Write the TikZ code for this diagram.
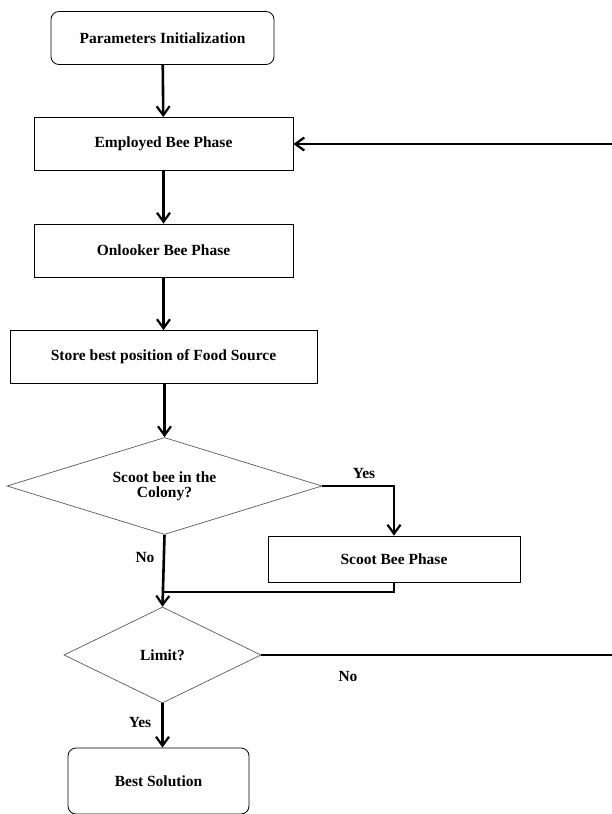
\documentclass[tikz,border=0pt]{standalone}
\usepackage{fontspec}
\setmainfont{Liberation Serif}
\usetikzlibrary{arrows.meta,shapes.geometric}
\begin{document}
\begin{tikzpicture}[x=1pt,y=-1pt,
  box/.style={draw=black,line width=0.8pt,minimum width=#1,minimum height=53pt,inner sep=0pt,font=\bfseries\fontsize{15.5}{17}\selectfont},
  rbox/.style={box=#1,rounded corners=8pt},
  dec/.style={draw=black!65,line width=0.7pt,diamond,aspect=3.2,inner sep=0pt,font=\bfseries\fontsize{15.5}{15}\selectfont,align=center},
  flow/.style={line width=2.6pt,-{Straight Barb[length=9pt,width=13pt,line width=2.2pt]}},
  plain/.style={line width=2.6pt},
  lab/.style={font=\bfseries\fontsize{15.5}{17}\selectfont}]
\useasboundingbox (0,0) rectangle (612,814);
\node[rbox=223pt] (init) at (162.5,38) {Parameters Initialization};
\node[box=259pt] (emp) at (163.5,144) {Employed Bee Phase};
\node[box=259pt] (onl) at (163.5,250.5) {Onlooker Bee Phase};
\node[box=307pt] (store) at (163.5,357) {Store best position of Food Source};
\node[dec,minimum width=315pt,minimum height=97pt] (scoot) at (164.5,486) {Scoot bee in the\\Colony?};
\node[box=252pt,minimum height=46pt] (sbp) at (394,559) {Scoot Bee Phase};
\node[dec,minimum width=197pt,minimum height=96pt] (lim) at (162.5,655) {Limit?};
\node[rbox=181pt,minimum height=66pt] (best) at (158.5,781) {Best Solution};
\coordinate (r1) at (612,144);
\coordinate (r2) at (612,655);
\coordinate (j) at (163,592);
\draw[flow] (init) -- (emp);
\draw[flow] (emp) -- (onl);
\draw[flow] (onl) -- (store);
\draw[flow] (store.south -| scoot.north) -- (scoot.north);
\draw[flow] (scoot.east) -| (sbp.north);
\draw[plain] (sbp.south) |- (j);
\draw[flow] (scoot.south) -- (lim.north);
\draw[flow] (lim.south) -- (lim.south |- best.north);
\draw[plain] (lim.east) -- (r2);
\draw[flow] (r1) -- (emp.east);
\node[lab] (yes1) at (364,473) {Yes};
\node[lab] (no1) at (145,557) {No};
\node[lab] (no2) at (348,676) {No};
\node[lab] (yes2) at (140,722) {Yes};
\end{tikzpicture}
\end{document}
